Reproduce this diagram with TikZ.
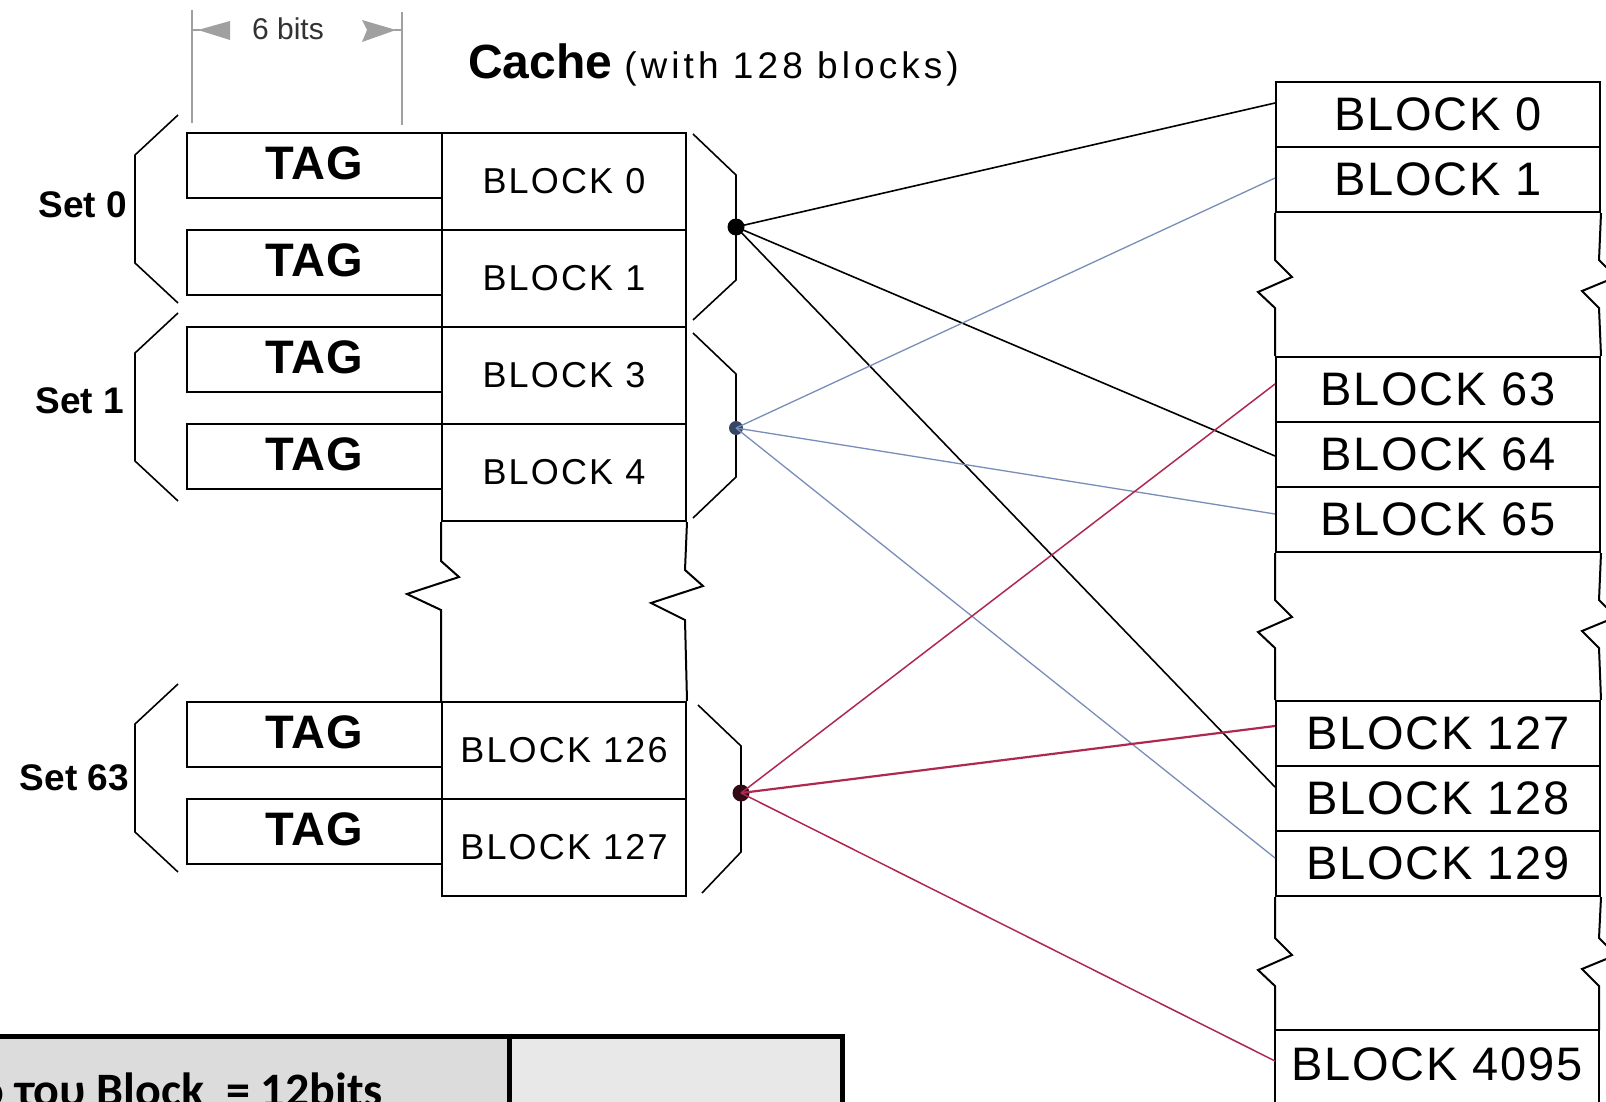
\documentclass[tikz,border=0pt]{standalone}
\usepackage{fontspec}
\setmainfont{Liberation Sans}
\newfontfamily\tblfont{Carlito}
\newfontfamily\spacedfont[LetterSpace=6]{Liberation Sans}
\newfontfamily\titlefont[LetterSpace=11]{Liberation Sans}
\newfontfamily\memfont[LetterSpace=4]{Liberation Sans}
\newfontfamily\tagfont[LetterSpace=2]{Liberation Sans}
\definecolor{bluelink}{RGB}{120,142,185}
\definecolor{redlink}{RGB}{175,40,80}
\definecolor{dimgrey}{RGB}{160,160,160}
\definecolor{tblleft}{RGB}{220,220,220}
\definecolor{tblright}{RGB}{232,232,232}
\tikzset{
  tagbox/.style={draw, line width=1.8pt, minimum width=255pt, minimum height=65pt, inner sep=0pt, anchor=north west,
    font={\tagfont\bfseries\fontsize{47}{50}\selectfont}},
  cachecell/.style={draw, line width=2pt, minimum width=244pt, minimum height=97pt, inner sep=0pt, anchor=north west,
    font={\spacedfont\fontsize{36}{40}\selectfont}},
  memcell/.style={draw, line width=2pt, minimum width=324pt, minimum height=65pt, inner sep=0pt, anchor=north west,
    font={\memfont\fontsize{47}{50}\selectfont}},
  memtext/.style={inner sep=0pt, font={\memfont\fontsize{47}{50}\selectfont}},
  setlabel/.style={anchor=east, inner sep=0pt, font=\bfseries\fontsize{37}{42}\selectfont},
  bracepath/.style={line width=1.6pt},
  sidepath/.style={line width=2pt},
  blacklink/.style={draw=black, line width=1.6pt},
  bluelinkstyle/.style={draw=bluelink, line width=1.3pt},
  redlinkstyle/.style={draw=redlink, line width=1.5pt},
  dotnode/.style={circle, inner sep=0pt, minimum size=17pt},
}
\begin{document}
\begin{tikzpicture}[x=1pt,y=-1pt]
\useasboundingbox (0,0) rectangle (1606,1102);
\fill[white] (0,0) rectangle (1606,1102);

% dimension "6 bits"
\draw[dimgrey, line width=2pt] (192,10) -- (192,123);
\draw[dimgrey, line width=2pt] (402,12) -- (402,125);
\draw[dimgrey, line width=2pt] (192,30) -- (200,30);
\fill[dimgrey] (198,30) -- (230,21) -- (230,40) -- cycle;
\draw[dimgrey, line width=2pt] (394,30) -- (402,30);
\fill[dimgrey] (396,30) -- (362,20) -- (367,30) -- (362,42) -- cycle;
\node[anchor=base, inner sep=0pt, font=\fontsize{30}{36}\selectfont, text={rgb,255:red,50;green,50;blue,50}] (bits) at (288,40) {6 bits};

% title
\node[anchor=base west, inner sep=0pt] (title) at (468,79)
  {{\bfseries\fontsize{48}{52}\selectfont Cache}\hspace{12pt}{\titlefont\fontsize{37}{42}\selectfont (with 128 blocks)}};

% cache cells
\node[cachecell] (c0) at (441,132) {BLOCK 0};
\node[cachecell] (c1) at (441,229) {BLOCK 1};
\node[cachecell] (c3) at (441,326) {BLOCK 3};
\node[cachecell] (c4) at (441,423) {BLOCK 4};
\node[cachecell] (c126) at (441,701) {BLOCK 126};
\node[cachecell] (c127) at (441,798) {BLOCK 127};
% cache gap sides with zigzags
\draw[sidepath] (c4.south west) -- (441,561) -- (459,577) -- (407,594) -- (441,610) -- (c126.north west);
\draw[sidepath] (c4.south east) -- (685,570) -- (703,586) -- (651,603) -- (685,620) -- (c126.north east);

% tag boxes
\node[tagbox] (t0) at (186,132) {\raisebox{5pt}{TAG}};
\node[tagbox] (t1) at (186,229) {\raisebox{5pt}{TAG}};
\node[tagbox] (t3) at (186,326) {\raisebox{5pt}{TAG}};
\node[tagbox] (t4) at (186,423) {\raisebox{5pt}{TAG}};
\node[tagbox] (t126) at (186,701) {\raisebox{5pt}{TAG}};
\node[tagbox] (t127) at (186,798) {\raisebox{5pt}{TAG}};

% set labels and left braces
\node[setlabel] (s0) at (127,205) {Set 0};
\node[setlabel] (s1) at (124,401) {Set 1};
\node[setlabel] (s63) at (129,778) {Set 63};
\draw[bracepath] (178,115) -- (135,155) -- (135,263) -- (178,303);
\draw[bracepath] (178,313) -- (135,353) -- (135,461) -- (178,501);
\draw[bracepath] (178,684) -- (135,724) -- (135,832) -- (178,872);

% right braces
\draw[bracepath] (693,134) -- (736,175) -- (736,280) -- (693,320);
\draw[bracepath] (693,333) -- (736,374) -- (736,477) -- (693,518);
\draw[bracepath] (698,705) -- (741,746) -- (741,852) -- (702,893);

% memory column
\node[memcell] (m0) at (1275,81) {BLOCK 0};
\node[memcell] (m1) at (1275,146) {BLOCK 1};
\node[memcell] (m63) at (1275,356) {BLOCK 63};
\node[memcell] (m64) at (1275,421) {BLOCK 64};
\node[memcell] (m65) at (1275,486) {BLOCK 65};
\node[memcell] (m127) at (1275,700) {BLOCK 127};
\node[memcell] (m128) at (1275,765) {BLOCK 128};
\node[memcell] (m129) at (1275,830) {BLOCK 129};
\draw[sidepath] (1275,1030) -- (1599,1030);
\draw[sidepath] (1275,1030) -- (1275,1110);
\draw[sidepath] (1599,1030) -- (1599,1110);
\node[memtext] (m4095) at (1437,1064) {BLOCK 4095};
% memory gaps with zigzags
\draw[sidepath] (m1.south west) -- (1275,260) -- (1292,277) -- (1258,292) -- (1275,308) -- (m63.north west);
\draw[sidepath] (m1.south east) -- (1599,260) -- (1616,277) -- (1582,291) -- (1599,308) -- (m63.north east);
\draw[sidepath] (m65.south west) -- (1275,600) -- (1292,617) -- (1258,632) -- (1275,648) -- (m127.north west);
\draw[sidepath] (m65.south east) -- (1599,600) -- (1616,617) -- (1582,631) -- (1599,648) -- (m127.north east);
\draw[sidepath] (m129.south west) -- (1275,938) -- (1292,955) -- (1258,970) -- (1275,986) -- (1275,1030);
\draw[sidepath] (m129.south east) -- (1599,938) -- (1616,955) -- (1582,969) -- (1599,986) -- (1599,1030);

% dots
\node[dotnode, fill=black] (d0) at (736,227) {};
\node[dotnode, fill={rgb,255:red,55;green,70;blue,100}, minimum size=14pt] (d1) at (736,428) {};
\node[dotnode, fill={rgb,255:red,50;green,10;blue,20}] (d63) at (741,793) {};

% connectors
\draw[blacklink] (d0.center) -- ([yshift=11.5pt]m0.west);
\draw[blacklink] (d0.center) -- ([yshift=-1.5pt]m64.west);
\draw[blacklink] (d0.center) -- ([yshift=11.5pt]m128.west);
\draw[bluelinkstyle] (d1.center) -- ([yshift=1.5pt]m1.west);
\draw[bluelinkstyle] (d1.center) -- ([yshift=5.5pt]m65.west);
\draw[bluelinkstyle] (d1.center) -- ([yshift=5.5pt]m129.west);
\draw[redlinkstyle] (d63.center) -- ([yshift=5.5pt]m63.west);
\draw[redlinkstyle, line width=2.2pt] (d63.center) -- ([yshift=7.5pt]m127.west);
\draw[redlinkstyle] (d63.center) -- ([yshift=3pt]m4095.west -| m129.west);

% bottom table
\fill[tblleft] (-10,1036) rectangle (509,1110);
\fill[tblright] (509,1036) rectangle (842,1110);
\draw[line width=5pt] (-10,1036) -- (842,1036) -- (842,1110);
\draw[line width=5pt] (509,1036) -- (509,1110);
\node[anchor=base east, inner sep=0pt, font={\tblfont\bfseries\fontsize{48}{50}\selectfont}] (tbl) at (383,1106) {ο του Block~~= 12bits};
\end{tikzpicture}
\end{document}
